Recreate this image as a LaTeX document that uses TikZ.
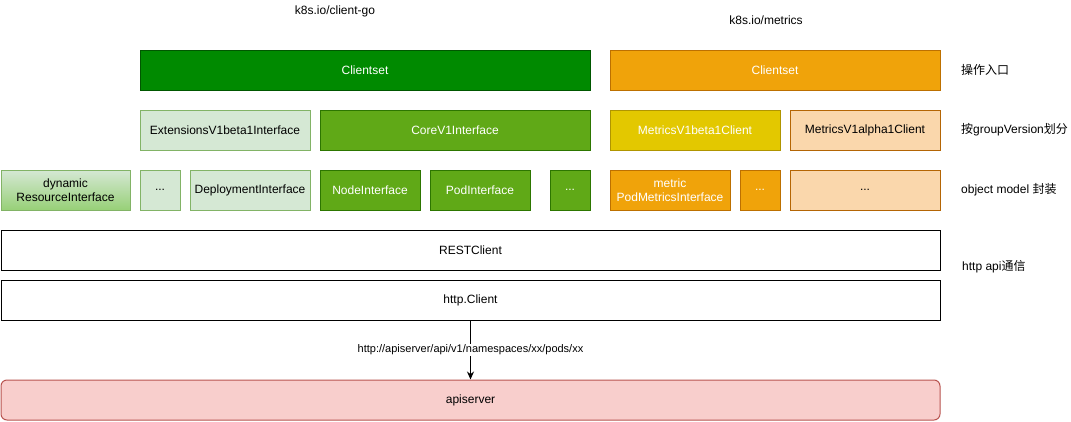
\documentclass[tikz,border=0pt]{standalone}
\usepackage{fontspec}
\setmainfont{Liberation Sans}
\newfontfamily\cjk{Noto Sans CJK SC}
\usetikzlibrary{arrows.meta}
\definecolor{dkgreen}{HTML}{008A00}
\definecolor{dkgreenS}{HTML}{005700}
\definecolor{midgreen}{HTML}{60A917}
\definecolor{midgreenS}{HTML}{2D7600}
\definecolor{ltgreen}{HTML}{D5E8D4}
\definecolor{ltgreenS}{HTML}{82B366}
\definecolor{gradgreen}{HTML}{97D077}
\definecolor{orng}{HTML}{F0A30A}
\definecolor{orngS}{HTML}{BD7000}
\definecolor{yel}{HTML}{E3C800}
\definecolor{yelS}{HTML}{B09500}
\definecolor{peach}{HTML}{FAD7AC}
\definecolor{peachS}{HTML}{B46504}
\definecolor{redF}{HTML}{F8CECC}
\definecolor{redS}{HTML}{B85450}
\tikzset{
  box/.style={draw, line width=1pt, inner sep=0pt, minimum height=40pt, align=center, font=\fontsize{12}{14}\selectfont},
  gDark/.style={box, fill=dkgreen, draw=dkgreenS, text=white},
  gMid/.style={box, fill=midgreen, draw=midgreenS, text=white},
  gLight/.style={box, fill=ltgreen, draw=ltgreenS},
  gGrad/.style={box, top color=ltgreen, bottom color=gradgreen, draw=ltgreenS},
  oBox/.style={box, fill=orng, draw=orngS, text=white},
  yBox/.style={box, fill=yel, draw=yelS, text=white},
  pBox/.style={box, fill=peach, draw=peachS},
  rBox/.style={box, fill=redF, draw=redS, rounded corners=6pt},
  wBox/.style={box, fill=white, draw=black},
  lbl/.style={inner sep=0pt, font=\fontsize{12}{14}\selectfont},
  side/.style={lbl, anchor=west},
}
\begin{document}
\begin{tikzpicture}[x=1pt,y=-1pt]
\useasboundingbox (0,0) rectangle (1071,421);
% titles
\node[lbl] (t1) at (335,11) {k8s.io/client-go};
\node[lbl] (t2) at (766,20) {k8s.io/metrics};
% row 1
\node[gDark, minimum width=450pt] (cg) at (365,70) {Clientset};
\node[oBox, minimum width=330pt] (cm) at (775,70) {Clientset};
% row 2
\node[gLight, minimum width=170pt] (ext) at (225,130) {ExtensionsV1beta1Interface};
\node[gMid, minimum width=270pt] (core) at (455,130) {CoreV1Interface};
\node[yBox, minimum width=170pt] (mb) at (695,130) {MetricsV1beta1Client};
\node[pBox, minimum width=150pt] (ma) at (865,130) {MetricsV1alpha1Client};
% row 3
\node[gGrad, minimum width=129pt] (dyn) at (65.5,190) {dynamic\\ResourceInterface};
\node[gLight, minimum width=40pt] (d1) at (160,190) {...};
\node[gLight, minimum width=120pt] (dep) at (250,190) {DeploymentInterface};
\node[gMid, minimum width=100pt] (nodei) at (370,190) {NodeInterface};
\node[gMid, minimum width=100pt] (pod) at (480,190) {PodInterface};
\node[gMid, minimum width=40pt] (d2) at (570,190) {...};
\node[oBox, minimum width=120pt] (pm) at (670,190) {metric\\PodMetricsInterface};
\node[oBox, minimum width=40pt] (d3) at (760,190) {...};
\node[pBox, minimum width=150pt] (d4) at (865,190) {...};
% rows 4-5
\node[wBox, minimum width=939pt] (rest) at (470.5,250) {RESTClient};
\node[wBox, minimum width=939pt] (http) at (470.5,300) {http.Client};
\node[rBox, minimum width=939pt] (api) at (470.5,400) {apiserver};
% arrow
\draw[line width=1pt, -{Stealth[length=8pt,width=7pt]}] (http.south) -- (api.north)
  node[midway, inner sep=1pt, fill=white, font=\fontsize{11}{13}\selectfont] (url) {http://apiserver/api/v1/namespaces/xx/pods/xx};
% side labels
\node[side] (s1) at (961,70) {{\cjk 操作入口}};
\node[side] (s2) at (961,130) {{\cjk 按}groupVersion{\cjk 划分}};
\node[side] (s3) at (961,190) {object model {\cjk 封装}};
\node[side] (s4) at (962,267) {http api{\cjk 通信}};
\end{tikzpicture}
\end{document}
